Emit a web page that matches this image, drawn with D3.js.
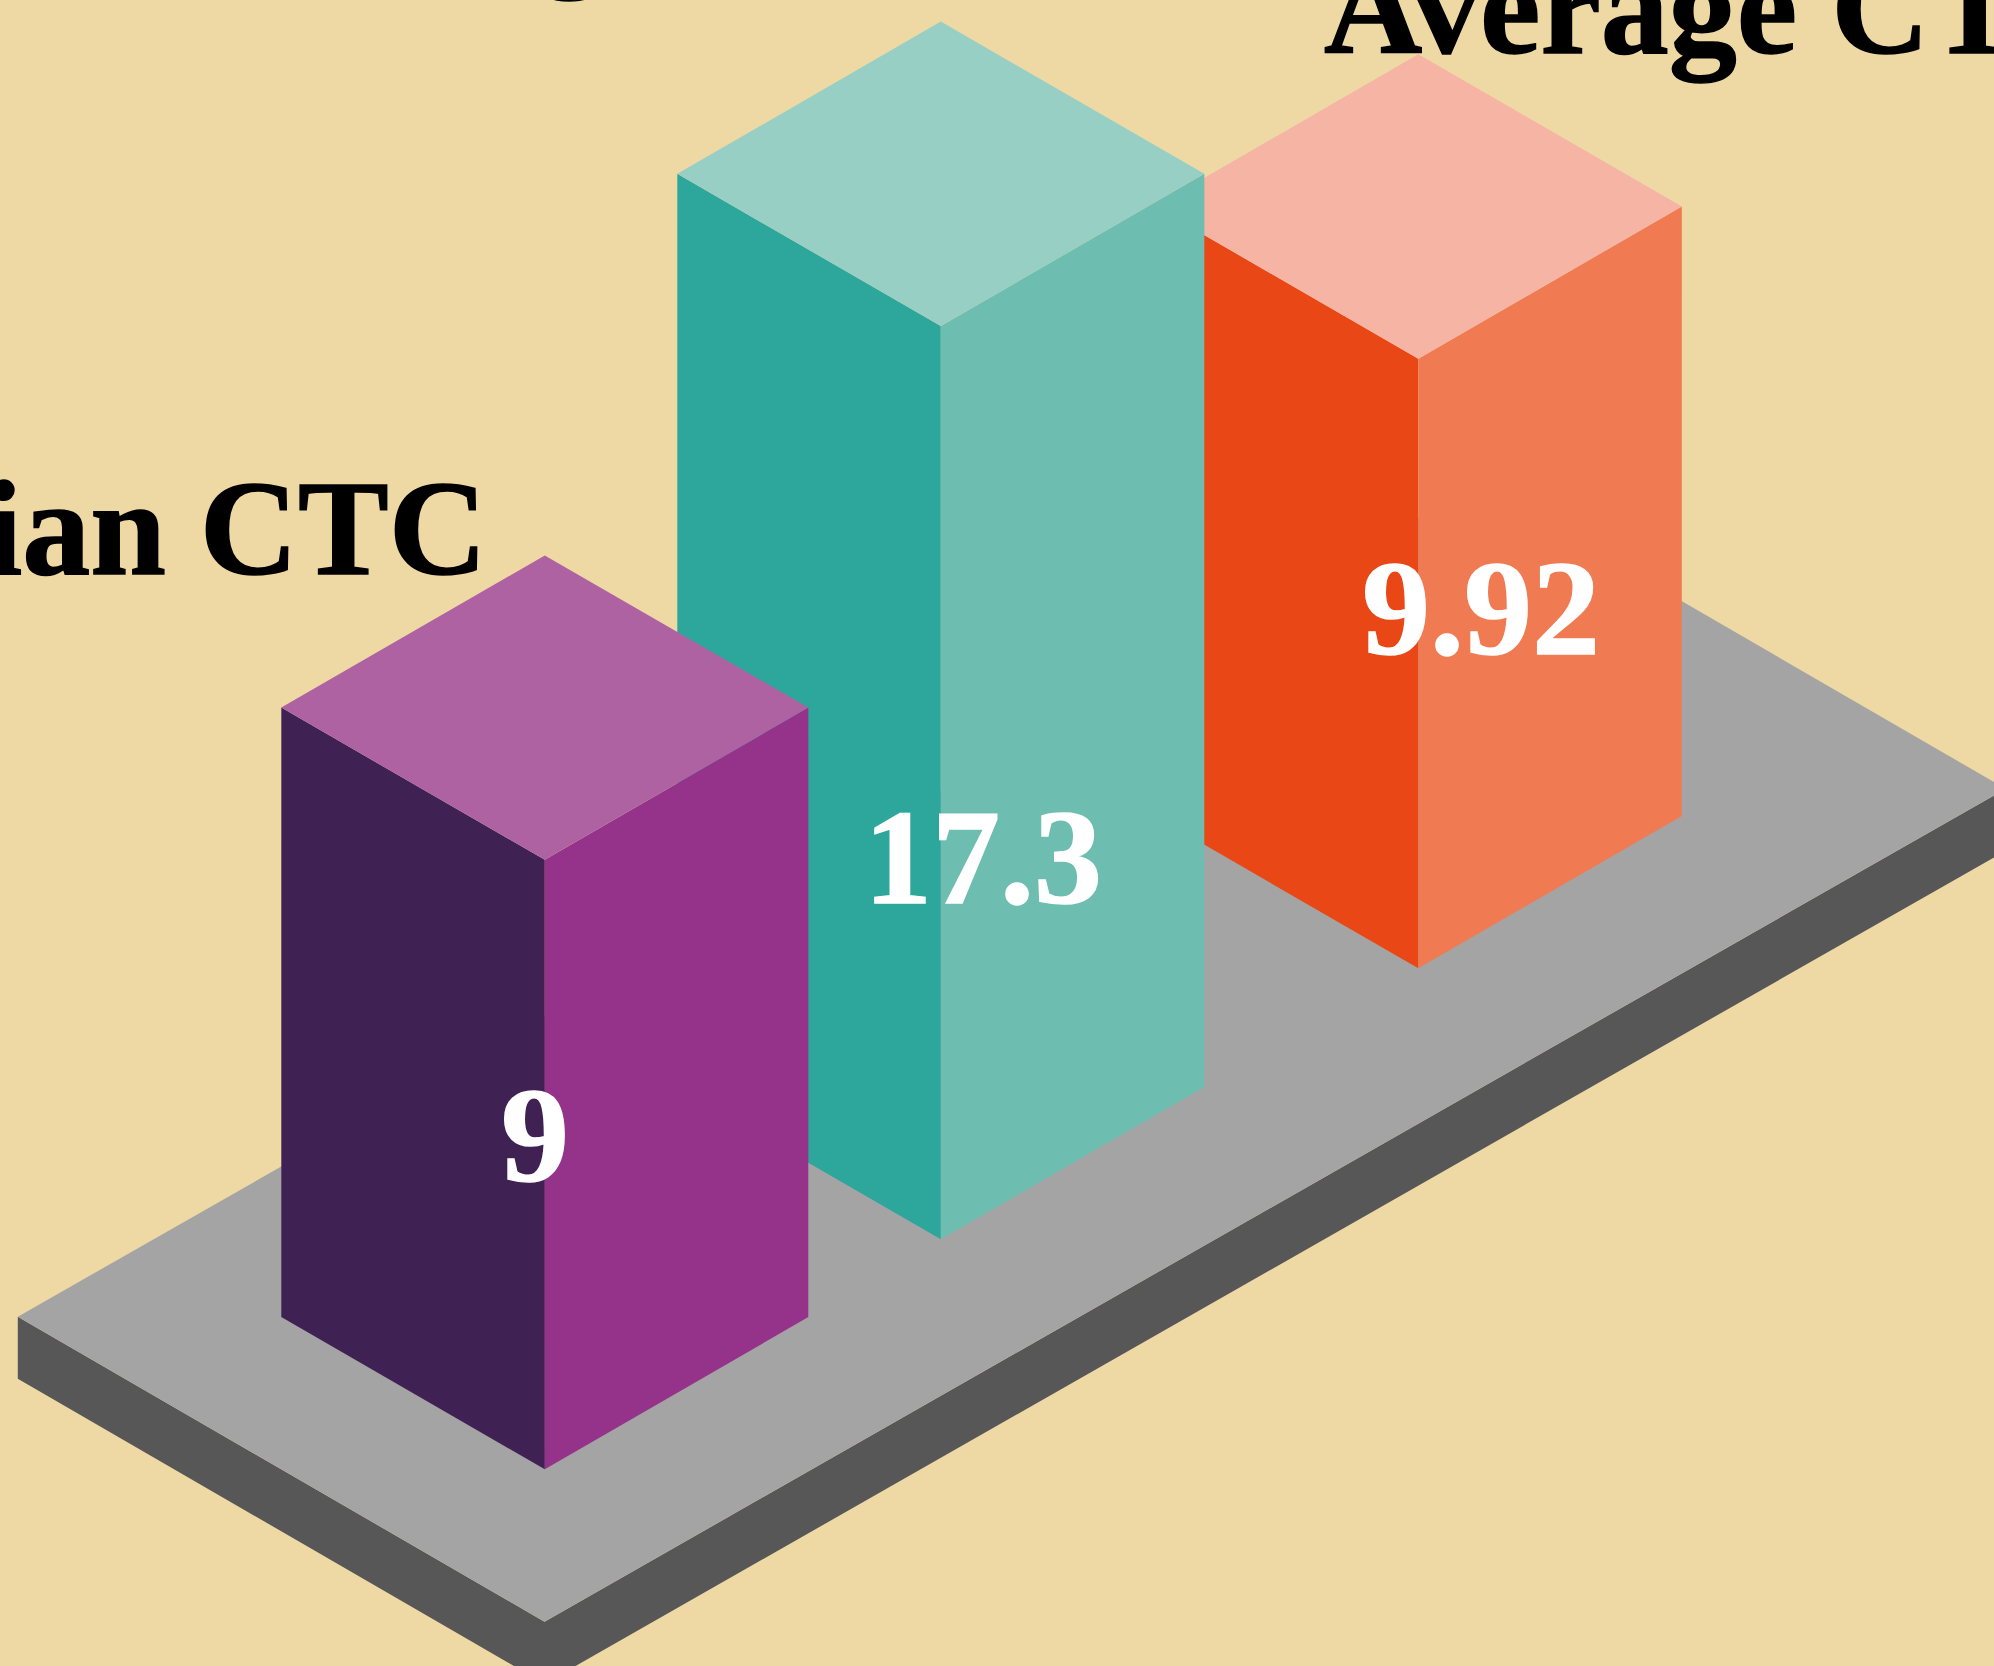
<!DOCTYPE html>
<html>
<head>
<meta charset="utf-8">
<title>CTC</title>
<script src="https://cdn.jsdelivr.net/npm/d3@7"></script>
<style>
  html, body { margin: 0; padding: 0; background: #eed9a5; overflow: hidden; }
  svg { display: block; }
  text { font-family: "Liberation Serif", serif; font-weight: 700; }
</style>
</head>
<body>
<div id="chart"></div>
<script>
// Isometric bars, back to front
const categories = ["Average CTC", "Highest CTC", "Median CTC"];
const values = [9.92, 17.3, 9];
const valueLabels = ["9.92", "17.3", "9"];

const topColors = ["#f5b4a4", "#97cfc4", "#ae62a2"];
const leftColors = ["#ea4716", "#2da69b", "#3f2154"];
const rightColors = ["#f07b52", "#6dbdb0", "#943389"];

const width = 1994,
    height = 1666,
    halfW = 263.5, // half the width of a bar on screen
    halfD = 152.2, // half the depth of a bar on screen
    fontSize = 136,
    floorThickness = 62;

const svg = d3.select("#chart")
  .append("svg")
  .attr("width", width)
  .attr("height", height)
  .attr("viewBox", [0, 0, width, height]);

// heights in the picture are not proportional to the values
const barHeight = d3.scaleLinear()
  .domain([9, 9.92, 17.3])
  .range([609.5, 609.6, 913.3]);

// front corner of each bar on the floor
const baseX = d3.scaleOrdinal(categories, [1418.3, 940.8, 544.8]);
const baseY = d3.scaleOrdinal(categories, [968.3, 1239.3, 1469.3]);

// where the texts sit
const nameX = d3.scaleOrdinal(categories, [1324, 777, 487]);
const nameY = d3.scaleOrdinal(categories, [52.7, -28.8, 573.5]);
const nameAnchor = d3.scaleOrdinal(categories, ["start", "middle", "end"]);
const valueX = d3.scaleOrdinal(categories, [1481, 983, 535]);
const valueY = d3.scaleOrdinal(categories, [653.5, 902.5, 1181]);

const poly = d3.line();

// floor slab
const left = [17.8, 1316.7],
    front = [544.5, 1621.7],
    right = [2005.7, 788.8],
    back = [left[0] + right[0] - front[0], left[1] + right[1] - front[1]];
const drop = p => [p[0], p[1] + floorThickness];

svg.append("path")
  .attr("d", poly([left, front, right, drop(right), drop(front), drop(left)]) + "Z")
  .attr("fill", "#575757");

svg.append("path")
  .attr("d", poly([left, front, right, back]) + "Z")
  .attr("fill", "#a4a4a4");

const rows = categories.map((name, i) => ({
  name,
  value: values[i],
  label: valueLabels[i],
  top: topColors[i],
  left: leftColors[i],
  right: rightColors[i]
}));

const bars = svg.append("g")
  .selectAll("g")
  .data(rows)
  .join("g");

// left face
bars.append("path")
  .attr("fill", d => d.left)
  .attr("d", d => {
    const x = baseX(d.name), y = baseY(d.name), h = barHeight(d.value);
    return poly([[x, y], [x, y - h], [x - halfW, y - h - halfD], [x - halfW, y - halfD]]) + "Z";
  });

// right face
bars.append("path")
  .attr("fill", d => d.right)
  .attr("d", d => {
    const x = baseX(d.name), y = baseY(d.name), h = barHeight(d.value);
    return poly([[x, y], [x, y - h], [x + halfW, y - h - halfD], [x + halfW, y - halfD]]) + "Z";
  });

// top face
bars.append("path")
  .attr("fill", d => d.top)
  .attr("d", d => {
    const x = baseX(d.name), y = baseY(d.name) - barHeight(d.value);
    return poly([[x, y], [x - halfW, y - halfD], [x, y - 2 * halfD], [x + halfW, y - halfD]]) + "Z";
  });

// a thin stroke brings the glyphs up to the weight of the reference
svg.append("g")
  .selectAll("text")
  .data(rows)
  .join("text")
  .text(d => d.name)
  .attr("x", d => nameX(d.name))
  .attr("y", d => nameY(d.name))
  .attr("text-anchor", d => nameAnchor(d.name))
  .attr("font-size", fontSize)
  .attr("fill", "#000")
  .attr("stroke", "#000")
  .attr("stroke-width", 1.5);

svg.append("g")
  .selectAll("text")
  .data(rows)
  .join("text")
  .text(d => d.label)
  .attr("x", d => valueX(d.name))
  .attr("y", d => valueY(d.name))
  .attr("text-anchor", "middle")
  .attr("font-size", fontSize)
  .attr("fill", "#fff")
  .attr("stroke", "#fff")
  .attr("stroke-width", 1.5);
</script>
</body>
</html>
